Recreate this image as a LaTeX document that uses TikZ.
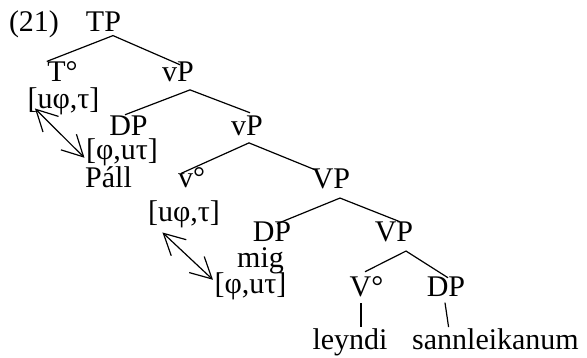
\documentclass[tikz,border=0pt]{standalone}
\usepackage{fontspec}
\setmainfont{Liberation Serif}
\usetikzlibrary{arrows.meta}

\begin{document}
\begin{tikzpicture}[x=1pt, y=-1pt, line width=1.2pt,
    lbl/.style={anchor=base, inner sep=0pt, font=\rmfamily\fontsize{30}{36}\selectfont},
    >={Straight Barb[length=21pt, width=22pt]}]

  \useasboundingbox (0,0) rectangle (587,358);

  % Labels, one per row
  \node[lbl] (ex)   at (34, 32)    {(21)};
  \node[lbl] (TP)   at (103.5, 32) {TP};

  \node[lbl] (T)    at (62.5, 82)  {T°};
  \node[lbl] (vPa)  at (178, 82)   {vP};
  \node[lbl] (Tf)   at (63.5, 109) {[uφ,τ]};

  \node[lbl] (DPa)  at (128.5, 136) {DP};
  \node[lbl] (vPb)  at (247, 136)   {vP};
  \node[lbl] (DPaf) at (122, 160)   {[φ,uτ]};
  \node[lbl] (Pall) at (108.5, 188) {Páll};

  \node[lbl] (v)    at (191.5, 188) {v°};
  \node[lbl] (VPa)  at (331, 189)   {VP};
  \node[lbl] (vf)   at (184, 222)   {[uφ,τ]};

  \node[lbl] (DPb)  at (272, 242)   {DP};
  \node[lbl] (VPb)  at (394, 242)   {VP};
  \node[lbl] (mig)  at (260.5, 268) {mig};
  \node[lbl] (DPbf) at (250.5, 294) {[φ,uτ]};

  \node[lbl] (V)    at (366.5, 297) {V°};
  \node[lbl] (DPc)  at (446, 297)   {DP};
  \node[lbl] (leyndi) at (350, 350) {leyndi};
  \node[lbl] (sann) at (495.5, 350) {sannleikanum};

  % Branches
  \draw (T.north west) -- ([shift={(9.5,3)}]TP.south) -- ([shift={(2,3)}]vPa.north);
  \draw ([shift={(-3.5,-1)}]DPa.north) -- ([shift={(12,7)}]vPa.south) -- ([shift={(3,-3)}]vPb.north);
  \draw ([shift={(-10.5,6)}]v.north) -- ([shift={(2,6)}]vPb.south) -- ([shift={(-16,1)}]VPa.north);
  \draw ([shift={(5,2)}]DPb.north) -- ([shift={(9,8)}]VPa.south) -- ([shift={(6,0)}]VPb.north);
  \draw ([shift={(-1.5,-4.7)}]V.north) -- ([shift={(12,8)}]VPb.south) -- ([shift={(2,1)}]DPc.north);
  \draw ([shift={(-5.5,5)}]V.south) -- ([shift={(11,-1.5)}]leyndi.north);
  \draw ([shift={(-1,5)}]DPc.south) -- ([shift={(37,-1.5)}]sann.north west);

  % Agreement arrows
  \draw[<->] ([shift={(8,-7.5)}]Tf.south west) -- ([shift={(-1,5)}]DPaf.west);
  \draw[<->] ([shift={(15,3.5)}]vf.south west) -- ([shift={(-1,-7)}]DPbf.west);

\end{tikzpicture}
\end{document}
